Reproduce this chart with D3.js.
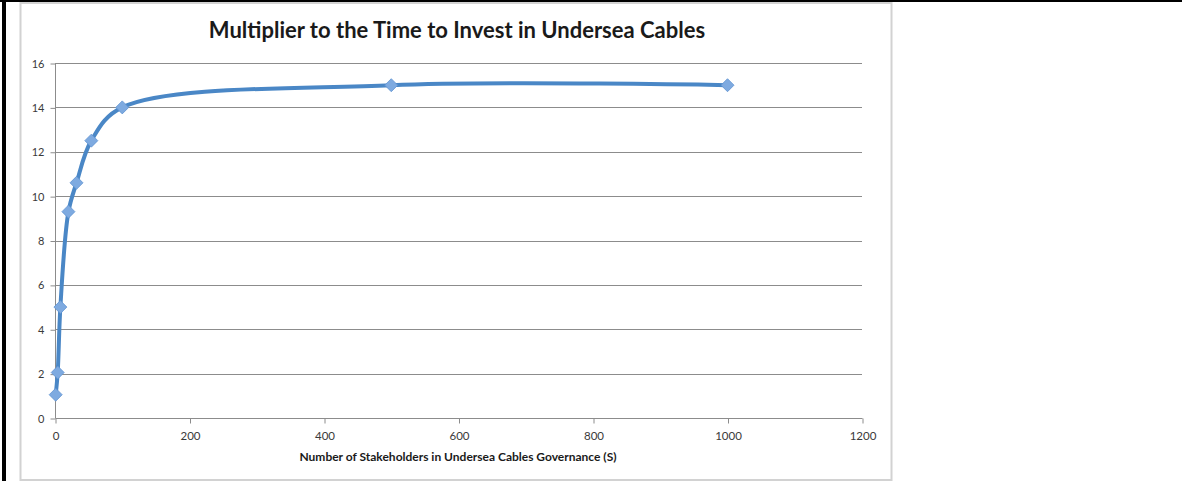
<!DOCTYPE html>
<html>
<head>
<meta charset="utf-8">
<script src="https://cdn.jsdelivr.net/npm/d3@7"></script>
<style>
  html, body { margin: 0; padding: 0; background: #fff; }
  svg { display: block; }
</style>
</head>
<body>
<svg id="chart" width="1182" height="481"></svg>
<script>
// Stakeholder counts and the corresponding investment-time multiplier
const stakeholders = [1, 4, 8, 20, 32, 54, 100, 500, 1000];
const multiplier   = [1.05, 2.05, 5, 9.3, 10.6, 12.5, 14, 15, 15];

const xTicks = [0, 200, 400, 600, 800, 1000, 1200];
const yTicks = [0, 2, 4, 6, 8, 10, 12, 14, 16];

const titleText = "Multiplier to the Time to Invest in Undersea Cables";
const xAxisTitle = "Number of Stakeholders in Undersea Cables Governance (S)";

const svg = d3.select("#chart");
const font = "Lato, 'Open Sans', sans-serif";

// outer page borders
svg.append("rect").attr("x", 0).attr("y", 0).attr("width", 1182).attr("height", 2).attr("fill", "#000");
svg.append("rect").attr("x", 2).attr("y", 0).attr("width", 4).attr("height", 481).attr("fill", "#000");

// chart frame
svg.append("rect")
  .attr("x", 20.5).attr("y", 3).attr("width", 871).attr("height", 477)
  .attr("fill", "#fff").attr("stroke", "#d2d2d2").attr("stroke-width", 2);

const x = d3.scaleLinear().domain([0, 1200]).range([55, 862]);
const y = d3.scaleLinear().domain([0, 16]).range([418, 63]);

// horizontal gridlines
svg.append("g").selectAll("line").data(yTicks.slice(1)).join("line")
  .attr("x1", x(0)).attr("x2", x(1200))
  .attr("y1", d => Math.round(y(d)) + 0.5).attr("y2", d => Math.round(y(d)) + 0.5)
  .attr("stroke", "#8c8c8c").attr("stroke-width", 1);

// y axis
const yAxis = d3.axisLeft(y).tickValues(yTicks).tickFormat(d3.format("d")).tickSize(5).tickPadding(6);
const gy = svg.append("g").attr("transform", `translate(${x(0) + 0.5},0.5)`).call(yAxis);
gy.select(".domain").attr("stroke", "#8c8c8c").attr("d", `M0,${y(16)}V${y(0)}`);
gy.selectAll(".tick line").attr("stroke", "#8c8c8c");
gy.selectAll(".tick text").attr("fill", "#3a3a3a").style("font-family", font).style("font-size", "11px");

// x axis
const xAxis = d3.axisBottom(x).tickValues(xTicks).tickFormat(d3.format("d")).tickSize(5).tickPadding(8);
const gx = svg.append("g").attr("transform", `translate(0.5,${Math.round(y(0)) + 0.5})`).call(xAxis);
gx.select(".domain").attr("stroke", "#8c8c8c").attr("d", `M${x(0)},0H${x(1200)}`);
gx.selectAll(".tick line").attr("stroke", "#8c8c8c");
gx.selectAll(".tick text").attr("fill", "#3a3a3a").style("font-family", font).style("font-size", "11.5px");

// title
svg.append("text")
  .attr("x", 457).attr("y", 38)
  .attr("text-anchor", "middle")
  .style("font-family", font).style("font-weight", "bold").style("font-size", "22px")
  .attr("fill", "#1a1a1a")
  .text(titleText);

// x axis title
svg.append("text")
  .attr("x", 458).attr("y", 461)
  .attr("text-anchor", "middle")
  .style("font-family", font).style("font-weight", "bold").style("font-size", "12px")
  .attr("fill", "#1a1a1a")
  .text(xAxisTitle);

const points = stakeholders.map((s, i) => [s, multiplier[i]]);

// smoothed series line
const line = d3.line().x(d => x(d[0])).y(d => y(d[1])).curve(d3.curveCatmullRom.alpha(0.5));
svg.append("path")
  .datum(points)
  .attr("d", line)
  .attr("fill", "none")
  .attr("stroke", "#4a87c6")
  .attr("stroke-width", 4)
  .attr("stroke-linejoin", "round")
  .attr("stroke-linecap", "round");

// diamond markers
const diamondShape = {
  draw(ctx, r) {
    ctx.moveTo(0, -r); ctx.lineTo(r, 0); ctx.lineTo(0, r); ctx.lineTo(-r, 0); ctx.closePath();
  }
};
const diamond = d3.symbol().type(diamondShape).size(6.5);
svg.append("g").selectAll("path").data(points).join("path")
  .attr("transform", d => `translate(${x(d[0])},${y(d[1])})`)
  .attr("d", diamond)
  .attr("fill", "#7eaae0")
  .attr("stroke", "#5f93d2")
  .attr("stroke-width", 0.8);
</script>
</body>
</html>
